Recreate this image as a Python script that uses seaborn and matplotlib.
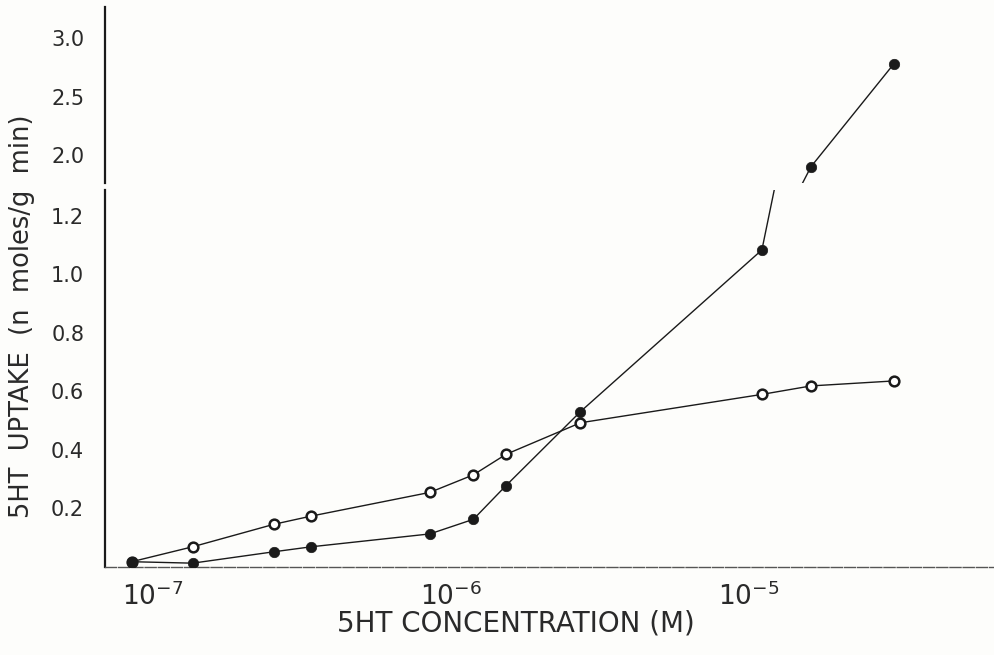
import numpy as np
import pandas as pd
import matplotlib
matplotlib.use("Agg")
import matplotlib.pyplot as plt
from matplotlib.ticker import FixedLocator, NullFormatter
from matplotlib.transforms import ScaledTranslation
import seaborn as sns

# 5HT uptake versus 5HT concentration, two preparations
conc_open = [1.0e-7, 1.6e-7, 3.0e-7, 4.0e-7, 1.0e-6, 1.4e-6, 1.8e-6, 3.2e-6, 1.3e-5, 1.9e-5, 3.6e-5]
uptake_open = [0.018, 0.069, 0.146, 0.174, 0.255, 0.315, 0.385, 0.493, 0.590, 0.619, 0.636]

conc_filled = [1.0e-7, 1.6e-7, 3.0e-7, 4.0e-7, 1.0e-6, 1.4e-6, 1.8e-6, 3.2e-6, 1.3e-5, 1.9e-5, 3.6e-5]
uptake_filled = [0.018, 0.013, 0.052, 0.069, 0.113, 0.163, 0.278, 0.531, 1.084, 1.90, 2.78]

lower_ticks = [0.2, 0.4, 0.6, 0.8, 1.0, 1.2]
lower_labels = ["0.2", "0.4", "0.6", "0.8", "1.0", "1.2"]
upper_ticks = [2.0, 2.5, 3.0]
upper_labels = ["2.0", "2.5", "3.0"]
x_major = [1e-7, 1e-6, 1e-5]
x_major_labels = [r"$10^{-7}$", r"$10^{-6}$", r"$10^{-5}$"]
x_minor = [3e-7, 3e-6, 3e-5]

x_label = "5HT CONCENTRATION (M)"
y_label = "5HT  UPTAKE  (n  moles/g  min)"

sns.set_style("white")
plt.rcParams["font.family"] = ["DejaVu Sans"]
plt.rcParams["mathtext.fontset"] = "dejavusans"

ink = "#1a1a1a"
text_ink = "#2a2a2a"
paper = "#fdfdfb"

df_open = pd.DataFrame({"conc": conc_open, "uptake": uptake_open})
df_filled = pd.DataFrame({"conc": conc_filled, "uptake": uptake_filled})

fig = plt.figure(figsize=(9.95, 6.55), dpi=100, facecolor=paper)
# broken y axis: a tall lower panel and a short upper panel sharing x
ax_lo = fig.add_axes([0.1055, 0.1344, 0.8945, 0.5756], facecolor=paper)
ax_hi = fig.add_axes([0.1055, 0.7206, 0.8945, 0.2687], facecolor=paper, sharex=ax_lo)

for ax in (ax_lo, ax_hi):
    sns.lineplot(data=df_open, x="conc", y="uptake", ax=ax, sort=False, estimator=None,
                 color=ink, linewidth=1.0, marker="o", markersize=7,
                 markerfacecolor="white", markeredgecolor=ink, markeredgewidth=1.8,
                 zorder=3)
    sns.lineplot(data=df_filled, x="conc", y="uptake", ax=ax, sort=False, estimator=None,
                 color=ink, linewidth=1.0, marker="o", markersize=7.5,
                 markerfacecolor=ink, markeredgecolor=ink, markeredgewidth=0.5,
                 zorder=4)
    ax.set_xscale("log")
    ax.set_xlabel("")
    ax.set_ylabel("")
    for s in ("top", "right"):
        ax.spines[s].set_visible(False)
    ax.spines["left"].set_color(ink)
    ax.spines["left"].set_linewidth(1.6)
    ax.tick_params(axis="y", direction="out", length=5, width=1.2, color=ink,
                   labelsize=15, labelcolor=text_ink, pad=10)

ax_lo.set_xlim(10 ** -7.09, 10 ** -4.104)
ax_lo.set_ylim(0, 1.289)
ax_hi.set_ylim(1.760, 3.268)

ax_lo.set_yticks(lower_ticks)
ax_lo.set_yticklabels(lower_labels)
ax_hi.set_yticks(upper_ticks)
ax_hi.set_yticklabels(upper_labels)

ax_lo.xaxis.set_major_locator(FixedLocator(x_major))
ax_lo.set_xticklabels(x_major_labels)
ax_lo.xaxis.set_minor_locator(FixedLocator(x_minor))
ax_lo.xaxis.set_minor_formatter(NullFormatter())
ax_lo.tick_params(axis="x", which="both", direction="out", length=5, width=1.2,
                  color=ink, labelsize=19, labelcolor=text_ink, pad=6)
shift = ScaledTranslation(-0.10, 0, fig.dpi_scale_trans)
for lab in ax_lo.get_xticklabels():
    lab.set_horizontalalignment("left")
    lab.set_transform(lab.get_transform() + shift)

ax_lo.spines["bottom"].set_color("#555555")
ax_lo.spines["bottom"].set_linewidth(1.0)
ax_lo.spines["bottom"].set_linestyle((0, (8, 1.5)))

ax_hi.spines["bottom"].set_visible(False)
ax_hi.tick_params(axis="x", which="both", bottom=False, labelbottom=False)

fig.text(0.5185, 0.027, x_label, ha="center", va="bottom", fontsize=20,
         color=text_ink)
fig.text(0.022, 0.517, y_label, ha="center", va="center", rotation=90,
         fontsize=18.5, color=text_ink)

fig.savefig("out.png", dpi=100, facecolor=paper)
